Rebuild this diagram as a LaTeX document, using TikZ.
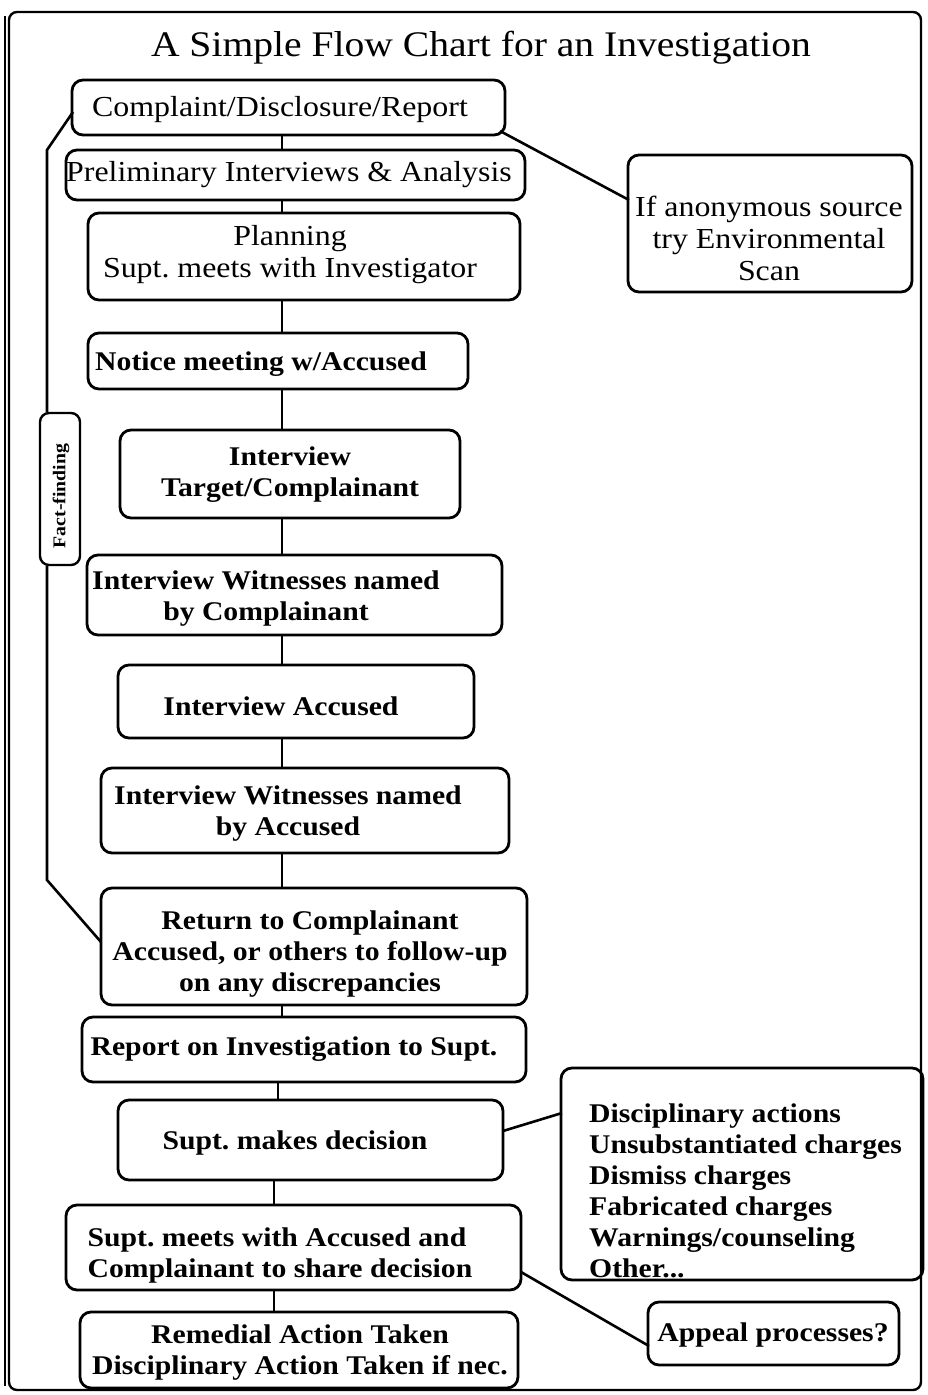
\documentclass[tikz,border=0pt]{standalone}
\usepackage{fontspec}
\setmainfont[FakeStretch=1.1]{Liberation Serif}
\newcommand\fbody{\fontsize{27}{31}\selectfont\bfseries}
\newcommand\freg{\fontsize{29}{32}\selectfont}
\newcommand\ftitle{\fontsize{36}{40}\selectfont}
\frenchspacing
\begin{document}
\begin{tikzpicture}[x=1pt,y=-1pt,
  box/.style={draw, rounded corners=11pt, line width=2.8pt, inner sep=0pt},
  tb/.style={align=center, inner sep=0pt, font=\fbody, yshift=-2pt},
  tbl/.style={align=left, inner sep=0pt, font=\fbody, yshift=-2pt},
  tr/.style={align=center, inner sep=0pt, font=\freg, yshift=-2pt},
  link/.style={line width=2.6pt}]
\useasboundingbox (0,0) rectangle (927,1395);
% frame
\draw[line width=2.4pt, rounded corners=8pt] (9,12) rectangle (921,1390);
\draw[line width=1.8pt] (5,16) -- (5,1386);
\node[font=\ftitle, inner sep=0pt] (title) at (481,48) {A Simple Flow Chart for an Investigation};
% main boxes
\node[box, minimum width=433pt, minimum height=55pt] (B1) at (288.5,107.5) {};
\node[tr] (T1) at (280,108) {Complaint/Disclosure/Report};
\node[box, minimum width=459pt, minimum height=50pt] (B2) at (295.5,175) {};
\node[tr] (T2) at (289,173) {Preliminary Interviews \& Analysis};
\node[box, minimum width=432pt, minimum height=87pt] (B3) at (304,256.5) {};
\node[tr] (T3) at (290,253) {Planning\\Supt. meets with Investigator};
\node[box, minimum width=380pt, minimum height=56pt] (B4) at (278,361) {};
\node[tb] (T4) at (261,362) {Notice meeting w/Accused};
\node[box, minimum width=340pt, minimum height=88pt] (B5) at (290,474) {};
\node[tb] (T5) at (290,473) {Interview\\Target/Complainant};
\node[box, minimum width=415pt, minimum height=80pt] (B6) at (294.5,595) {};
\node[tb] (T6) at (266,597) {Interview Witnesses named\\by Complainant};
\node[box, minimum width=356pt, minimum height=73pt] (B7) at (296,701.5) {};
\node[tb] (T7) at (281,704) {Interview Accused};
\node[box, minimum width=408pt, minimum height=85pt] (B8) at (305,810.5) {};
\node[tb] (T8) at (288,812) {Interview Witnesses named\\by Accused};
\node[box, minimum width=426pt, minimum height=117pt] (B9) at (314,946.5) {};
\node[tb] (T9) at (310,952) {Return to Complainant\\Accused, or others to follow-up\\on any discrepancies};
\node[box, minimum width=444pt, minimum height=65pt] (B10) at (304,1049.5) {};
\node[tb] (T10) at (294,1047) {Report on Investigation to Supt.};
\node[box, minimum width=385pt, minimum height=80pt] (B11) at (310.5,1140) {};
\node[tb] (T11) at (295,1141) {Supt. makes decision};
\node[box, minimum width=455pt, minimum height=85pt] (B12) at (293.5,1247.5) {};
\node[tbl] (T12) at (280,1253) {Supt. meets with Accused and\\Complainant to share decision};
\node[box, minimum width=438pt, minimum height=76pt] (B13) at (299,1350) {};
\node[tb] (T13) at (300,1351) {Remedial Action Taken\\Disciplinary Action Taken if nec.};
% side boxes
\node[box, minimum width=284pt, minimum height=137pt] (S1) at (770,223.5) {};
\node[tr] (ST1) at (769,236) {If anonymous source\\try Environmental\\Scan};
\node[box, minimum width=362pt, minimum height=212pt] (S2) at (742,1174) {};
\node[tbl, anchor=west] (ST2) at (589,1189) {Disciplinary actions\\Unsubstantiated charges\\Dismiss charges\\Fabricated charges\\Warnings/counseling\\Other...};
\node[box, minimum width=251pt, minimum height=63pt] (S3) at (773.5,1333.5) {};
\node[tb] (ST3) at (773,1333) {Appeal processes?};
% fact-finding
\node[box, rounded corners=9pt, line width=2.4pt, minimum width=40pt, minimum height=152pt] (FF) at (60,489) {};
\node[rotate=90, font=\fontsize{18}{20}\selectfont\bfseries, inner sep=0pt] (FFT) at (61,496) {Fact-finding};
% connectors (vertical)
\coordinate (c1) at (282,0);
\coordinate (c2) at (278,0);
\coordinate (c3) at (274,0);
\draw[link] (B1.south -| c1) -- (B2.north -| c1);
\draw[link] (B2.south -| c1) -- (B3.north -| c1);
\draw[link] (B3.south -| c1) -- (B4.north -| c1);
\draw[link] (B4.south -| c1) -- (B5.north -| c1);
\draw[link] (B5.south -| c1) -- (B6.north -| c1);
\draw[link] (B6.south -| c1) -- (B7.north -| c1);
\draw[link] (B7.south -| c1) -- (B8.north -| c1);
\draw[link] (B8.south -| c1) -- (B9.north -| c1);
\draw[link] (B9.south -| c1) -- (B10.north -| c1);
\draw[link] (B10.south -| c2) -- (B11.north -| c2);
\draw[link] (B11.south -| c3) -- (B12.north -| c3);
\draw[link] (B12.south -| c3) -- (B13.north -| c3);
% side connectors
\coordinate (a1) at (500,131);
\coordinate (a2) at (629,200);
\draw[link] (a1) -- (a2);
\coordinate (d1) at (503,1131);
\coordinate (d2) at (562,1113);
\draw[link] (d1) -- (d2);
\coordinate (e1) at (521,1272);
\coordinate (e2) at (649,1346);
\draw[link] (e1) -- (e2);
% fact-finding line
\coordinate (f1) at (73,112);
\coordinate (f2) at (47,150);
\coordinate (f3) at (47,880);
\coordinate (f4) at (101,942);
\draw[link] (f1) -- (f2) -- (FF.north -| f2);
\draw[link] (FF.south -| f3) -- (f3) -- (f4);
\end{tikzpicture}
\end{document}
